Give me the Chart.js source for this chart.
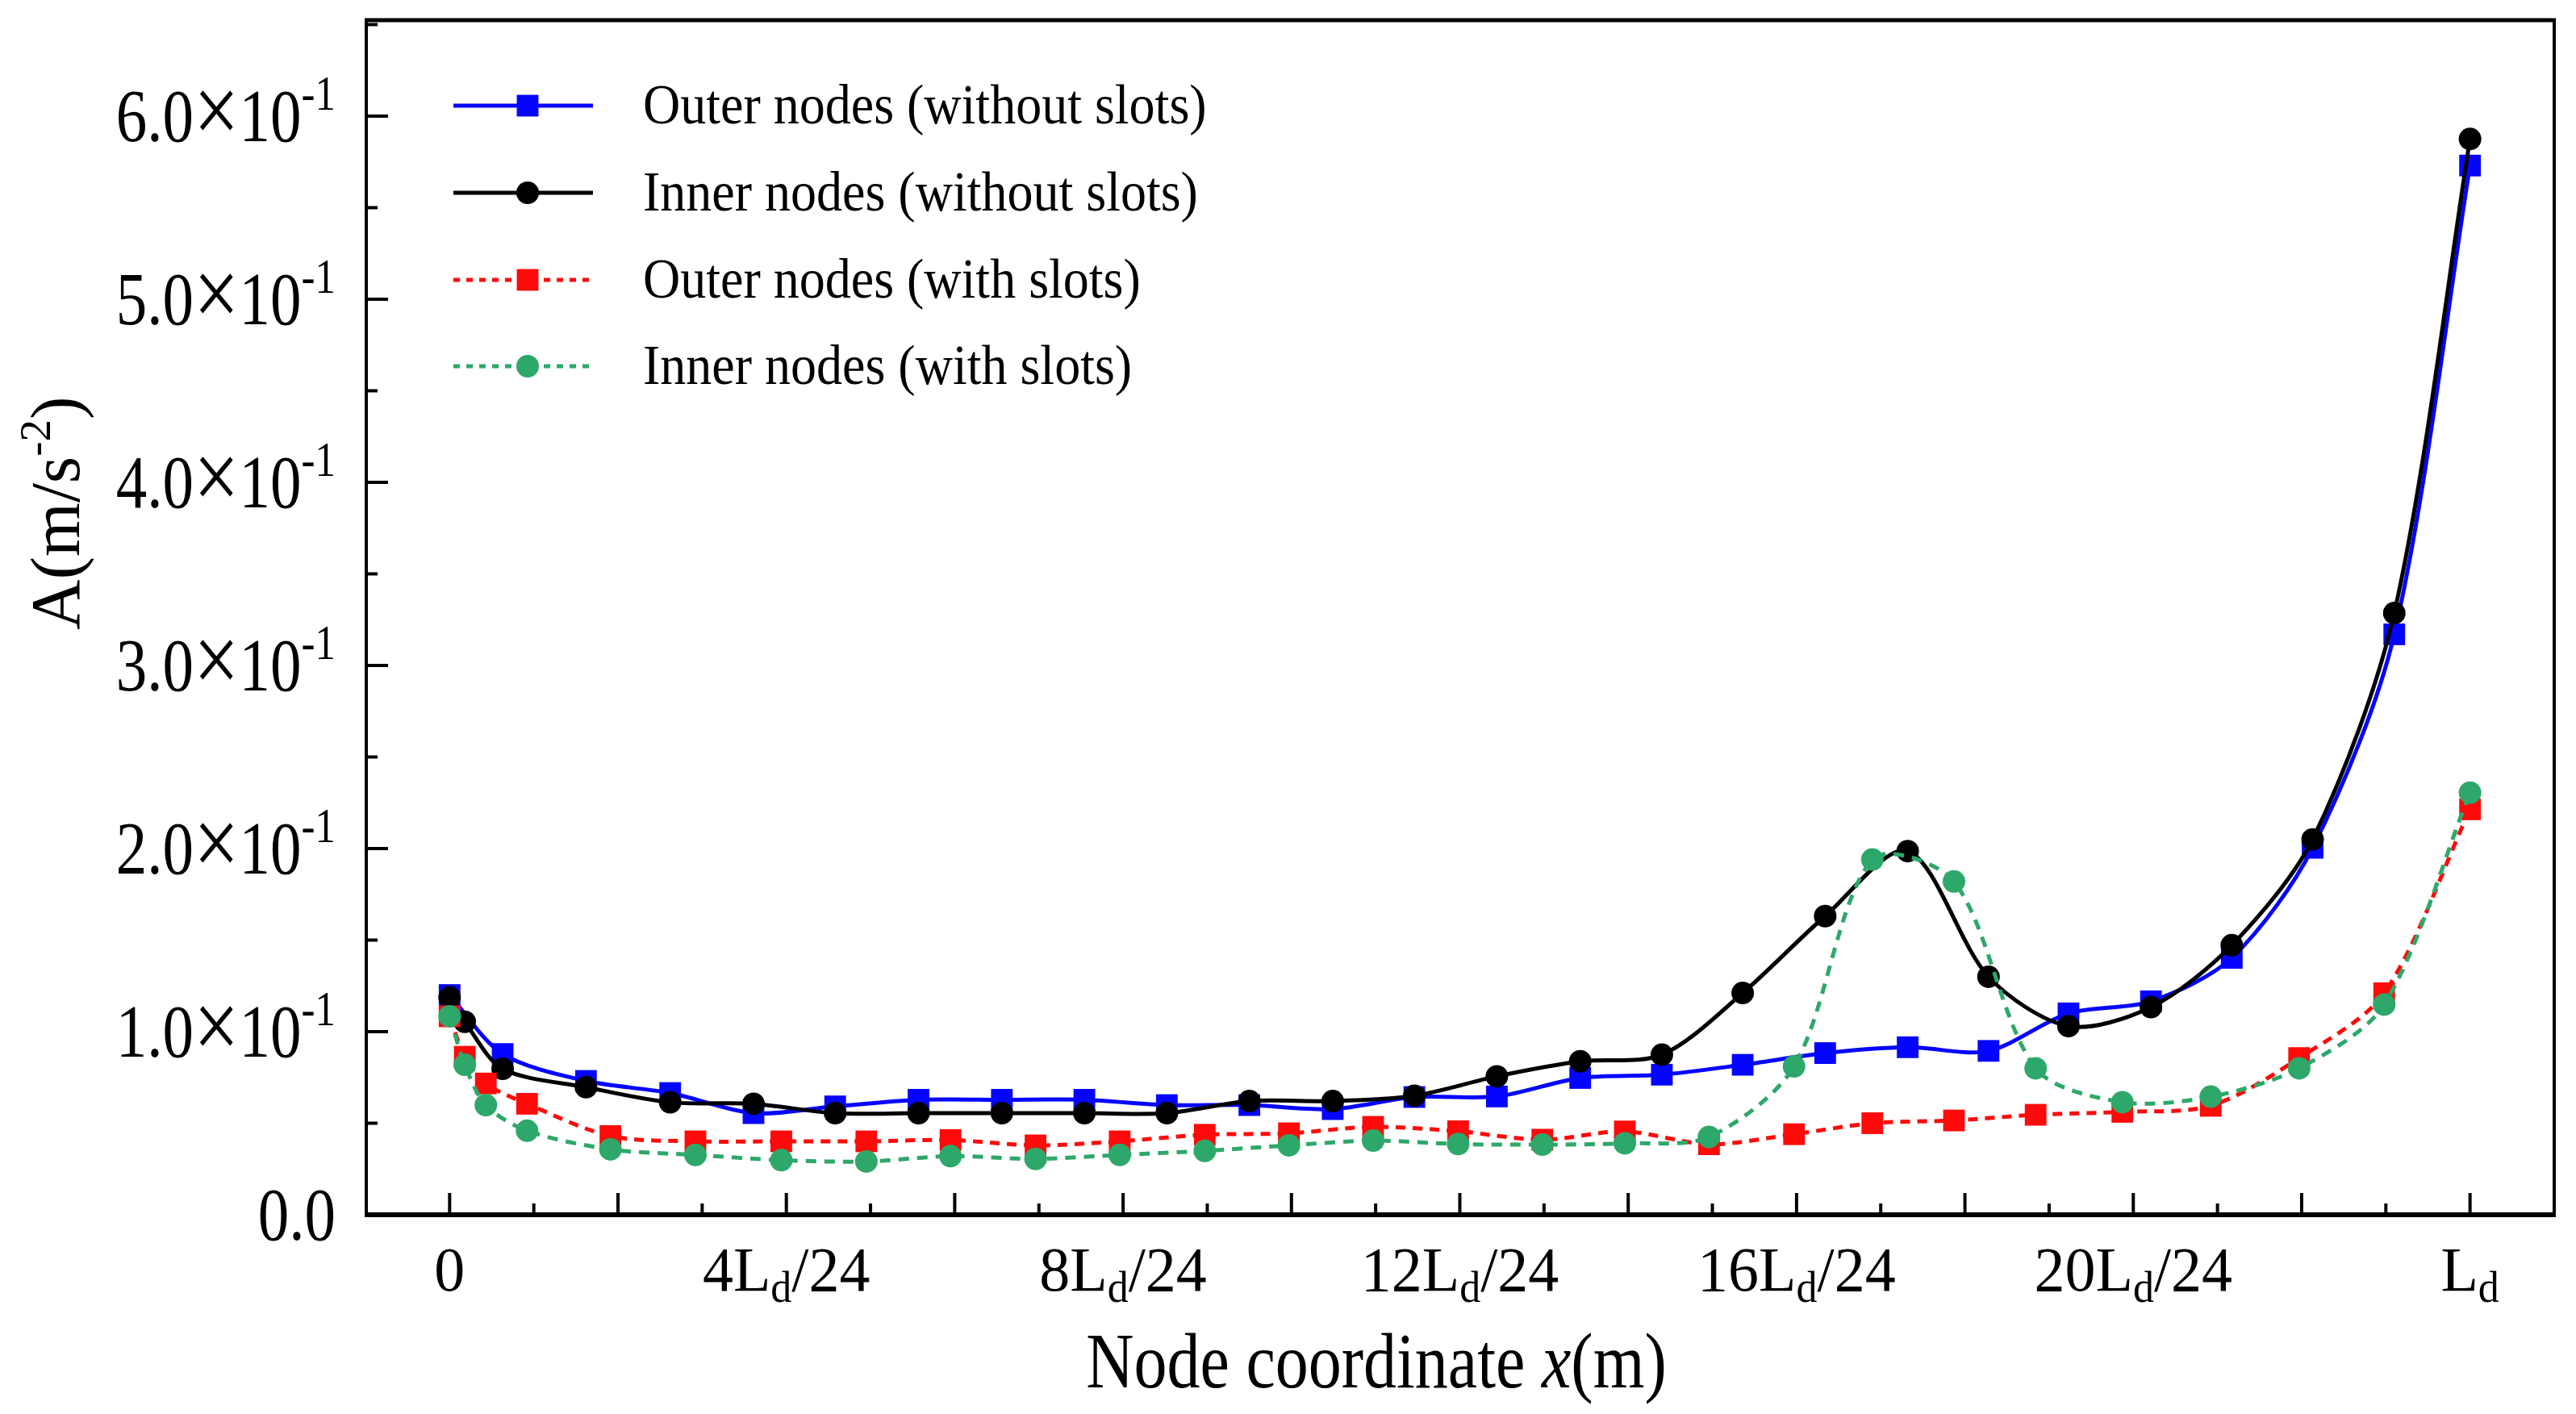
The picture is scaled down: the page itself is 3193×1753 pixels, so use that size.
<!DOCTYPE html>
<html><head><meta charset="utf-8">
<script src="https://cdn.jsdelivr.net/npm/chart.js@4.4.1/dist/chart.umd.min.js"></script>
<style>html,body{margin:0;padding:0;background:#fff;overflow:hidden}#wrap{width:3193px;height:1753px;position:relative;background:#fff}</style>
</head><body><div id="wrap"><canvas id="c"></canvas></div>
<script>
// ---- data (x in units of Ld/24) ----
const seriesNames = ['Outer nodes (without slots)','Inner nodes (without slots)','Outer nodes (with slots)','Inner nodes (with slots)'];
const xOuterNoSlot = [0,0.63,1.62,2.62,3.61,4.58,5.57,6.56,7.54,8.52,9.5,10.49,11.46,12.44,13.43,14.4,15.36,16.34,17.32,18.28,19.23,20.21,21.17,22.13,23.1,24];
const yOuterNoSlot = [0.12,0.0878,0.0731,0.0665,0.0555,0.0592,0.0628,0.0628,0.0628,0.0599,0.0599,0.0577,0.0643,0.0646,0.0747,0.0765,0.0819,0.0883,0.0915,0.0895,0.110,0.1166,0.1403,0.2004,0.317,0.573];
const xInnerNoSlot = [0,0.18,0.63,1.62,2.62,3.61,4.58,5.57,6.56,7.54,8.52,9.5,10.49,11.46,12.44,13.43,14.4,15.36,16.34,17.32,18.28,19.23,20.21,21.17,22.13,23.1,24];
const yInnerNoSlot = [0.1187,0.1054,0.0797,0.0697,0.0614,0.0606,0.0555,0.0555,0.0555,0.0555,0.0555,0.0621,0.0621,0.065,0.0756,0.0838,0.0874,0.1211,0.1631,0.1986,0.1300,0.1030,0.1134,0.1472,0.205,0.3286,0.5875];
const xSlot = [0,0.18,0.43,0.92,1.91,2.92,3.94,4.95,5.95,6.96,7.96,8.97,9.97,10.97,11.98,12.98,13.96,14.96,15.97,16.9,17.87,18.84,19.87,20.92,21.97,22.98,24];
const yOuterSlot = [0.1084,0.0863,0.0717,0.0606,0.043,0.0401,0.0401,0.0401,0.0408,0.0379,0.0401,0.0437,0.0445,0.048,0.0456,0.041,0.0455,0.0385,0.044,0.050,0.0515,0.0546,0.0562,0.0595,0.0856,0.121,0.2214];
const yInnerSlot = [0.1084,0.0819,0.0599,0.0459,0.0357,0.0327,0.0298,0.0291,0.032,0.0305,0.0327,0.0349,0.0379,0.0405,0.0386,0.0383,0.039,0.0425,0.081,0.194,0.182,0.080,0.0615,0.0645,0.080,0.1148,0.2305];
const xTickValues = [0,4,8,12,16,20,24];
const xTickLabels = ['0','4L_d/24','8L_d/24','12L_d/24','16L_d/24','20L_d/24','L_d'];
const yTickValues = [0,0.1,0.2,0.3,0.4,0.5,0.6];
const yTickLabels = ['0.0','1.0×10^{-1}','2.0×10^{-1}','3.0×10^{-1}','4.0×10^{-1}','5.0×10^{-1}','6.0×10^{-1}'];
const xTitle = 'Node coordinate _I{x}(m)';
const yTitle = 'A(m/s^{-2})';

const FONT = '"Liberation Serif","Times New Roman",serif';
const pts = (xs, ys) => xs.map((x, i) => ({x, y: ys[i]}));
const colors = ['#0505ff','#000000','#ff0a0a','#2ea86a'];
const dashes = [[],[],[12,9],[13,10]];
const styles = ['rect','circle','rect','circle'];
const radii = [19,14,19,14];

const datasets = [
  {data: pts(xOuterNoSlot, yOuterNoSlot), order: 3},
  {data: pts(xInnerNoSlot, yInnerNoSlot), order: 2},
  {data: pts(xSlot, yOuterSlot), order: 1},
  {data: pts(xSlot, yInnerSlot), order: 0}
].map((d, i) => Object.assign(d, {
  label: seriesNames[i], borderColor: colors[i], backgroundColor: colors[i],
  borderWidth: 5, borderDash: dashes[i], tension: 0.3,
  pointStyle: styles[i], pointRadius: radii[i], pointBorderWidth: 0,
  pointBackgroundColor: colors[i], fill: false
}));

// rich text: _{..} subscript, ^{..} superscript, _I{..} italic, × drawn larger
function parseRich(s){
  const segs=[]; let i=0, buf='';
  const push=(t,k)=>{ if(t) segs.push({t,k}); };
  while(i<s.length){
    const c=s[i];
    if(c==='_'||c==='^'){
      push(buf,'n'); buf='';
      let kind = c==='_'?'sub':'sup';
      i++;
      if(s[i]==='I'&&s[i+1]==='{'){ kind='it'; i++; }
      let t='';
      if(s[i]==='{'){ i++; while(i<s.length&&s[i]!=='}'){t+=s[i];i++;} i++; }
      else { t=s[i]; i++; }
      push(t,kind);
    } else if(c==='×'){ push(buf,'n'); buf=''; push(c,'big'); i++; }
    else { buf+=c; i++; }
  }
  push(buf,'n');
  return segs;
}
function fontFor(k,size,sr){
  if(k==='sub'||k==='sup') return (Math.round(size*sr))+'px '+FONT;
  if(k==='it') return 'italic '+size+'px '+FONT;
  if(k==='big') return Math.round(size*1.3)+'px '+FONT;
  return size+'px '+FONT;
}
function drawRich(ctx,s,x,y,size,align,vs,sr){
  vs=vs||1; sr=sr||0.65;
  const segs=parseRich(s);
  let w=0; for(const g of segs){ ctx.font=fontFor(g.k,size,sr); w+=ctx.measureText(g.t).width; }
  let cx = align==='right'? -w : align==='center'? -w/2 : 0;
  ctx.save(); ctx.translate(x,y); ctx.scale(1,vs);
  ctx.textAlign='left'; ctx.textBaseline='alphabetic'; ctx.fillStyle='#000';
  for(const g of segs){
    ctx.font=fontFor(g.k,size,sr);
    let dy=0; if(g.k==='sub') dy=size*0.18; if(g.k==='sup') dy=-size*0.42; if(g.k==='big') dy=size*0.02;
    ctx.fillText(g.t,cx,dy);
    cx+=ctx.measureText(g.t).width;
  }
  ctx.restore();
}

const decor = {
  id:'decor',
  afterDraw(chart){
    const {ctx, chartArea:a, scales:{x,y}} = chart;
    ctx.save();
    ctx.strokeStyle='#000'; ctx.lineCap='butt';
    const L=(x1,y1,x2,y2,w)=>{ctx.lineWidth=w;ctx.beginPath();ctx.moveTo(x1,y1);ctx.lineTo(x2,y2);ctx.stroke();};
    // frame
    L(a.left-2,a.top,a.right+2,a.top,5);
    L(a.right,a.top,a.right,a.bottom,4);
    L(a.left,a.top,a.left,a.bottom,4);
    L(a.left-2,a.bottom,a.right+2,a.bottom,6);
    // x ticks (inward)
    for(let v=Math.ceil(x.min); v<=x.max; v++){
      const px=x.getPixelForValue(v);
      L(px,a.bottom,px,a.bottom-(v%2===0?27:14),4);
    }
    // y ticks (inward)
    for(let k=1;k*0.05<=y.max;k++){
      const v=k*0.05, py=y.getPixelForValue(v);
      L(a.left,py,a.left+(k%2===0?27:14),py,4);
    }
    // tick labels
    xTickValues.forEach((v,i)=>drawRich(ctx,xTickLabels[i],x.getPixelForValue(v),1600,76,'center',1.04,0.68));
    yTickValues.forEach((v,i)=>drawRich(ctx,yTickLabels[i],a.left-38,y.getPixelForValue(v)+31,77,'right',1.2,0.66));
    // axis titles
    drawRich(ctx,xTitle,1706,1720,82,'center',1.18);
    ctx.save(); ctx.translate(98,636); ctx.rotate(-Math.PI/2);
    drawRich(ctx,yTitle,0,0,86,'center',1,0.64); ctx.restore();
    // legend
    const rows=[131,239,347,454];
    chart.data.datasets.forEach((d,i)=>{
      const ry=rows[i];
      ctx.strokeStyle=d.borderColor; ctx.setLineDash(d.borderDash.length?[8,8]:[]);
      L(562,ry,735,ry,5); ctx.setLineDash([]);
      ctx.fillStyle=d.borderColor;
      if(d.pointStyle==='rect'){ const s=d.pointRadius*Math.SQRT2; ctx.fillRect(654-s/2,ry-s/2,s,s); }
      else { ctx.beginPath(); ctx.arc(654,ry,d.pointRadius,0,Math.PI*2); ctx.fill(); }
      drawRich(ctx,d.label,797,ry+22,64,'left',1.1);
    });
    ctx.restore();
  }
};

new Chart(document.getElementById('c'), {
  type:'line',
  data:{datasets},
  options:{
    responsive:true, maintainAspectRatio:false, animation:false,
    layout:{padding:{left:454,top:25,right:27,bottom:247}},
    plugins:{legend:{display:false}, tooltip:{enabled:false}},
    scales:{
      x:{type:'linear', min:-0.99, max:25.0, display:false},
      y:{type:'linear', min:0, max:0.6524, display:false}
    }
  },
  plugins:[decor]
});
</script></body></html>
